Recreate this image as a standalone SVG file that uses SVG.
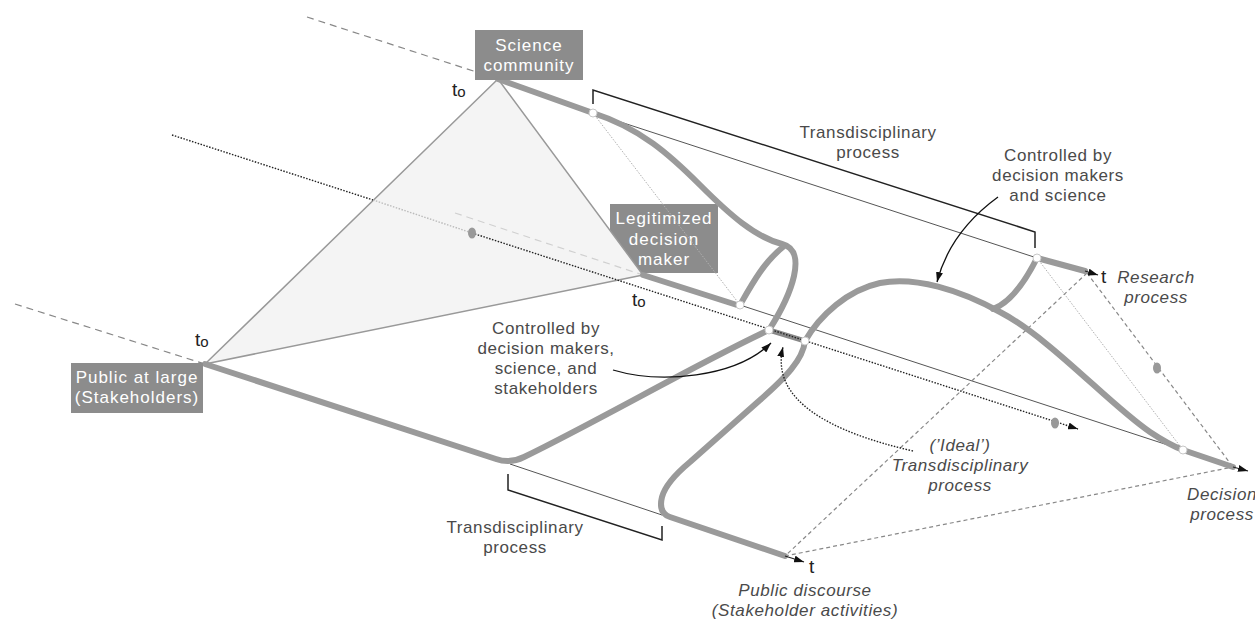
<svg xmlns="http://www.w3.org/2000/svg" width="1255" height="621" viewBox="0 0 1255 621">
<defs>
<style>
.thick{fill:none;stroke:#9a9a9a;stroke-width:6;stroke-linecap:round;stroke-linejoin:round}
.thin{fill:none;stroke:#555;stroke-width:1}
.xsec{fill:none;stroke:#b0b0b0;stroke-width:1;stroke-dasharray:1.5,1.5}
.back{fill:none;stroke:#888;stroke-width:1.2;stroke-dasharray:7,5}
.backlight{fill:none;stroke:#d0d0d0;stroke-width:1.2;stroke-dasharray:7,5}
.enddash{fill:none;stroke:#888;stroke-width:1.2;stroke-dasharray:4,3}
.ideal{fill:none;stroke:#222;stroke-width:1.4;stroke-dasharray:1.5,1.5}
.ideallight{fill:none;stroke:#bbb;stroke-width:1.4;stroke-dasharray:1.5,1.5}
.brk{fill:none;stroke:#222;stroke-width:1.5}
.arr{fill:none;stroke:#111;stroke-width:1.3}
.ax{fill:none;stroke:#222;stroke-width:1.2}
.jn{fill:#fff;stroke:#c8c8c8;stroke-width:1}
.dot{fill:#999}
.box{fill:#8c8c8c}
.bt{font-family:"Liberation Sans",Arial,sans-serif;font-size:17px;letter-spacing:1px;fill:#fff;text-anchor:middle}
.lb{font-family:"Liberation Sans",Arial,sans-serif;font-size:17px;letter-spacing:0.6px;fill:#4a4a4a;text-anchor:middle}
.it{font-family:"Liberation Sans",Arial,sans-serif;font-size:17px;letter-spacing:0.6px;font-style:italic;fill:#4a4a4a;text-anchor:middle}
.tt{font-family:"Liberation Sans",Arial,sans-serif;font-size:19px;fill:#222}
</style>
<marker id="ah" viewBox="0 0 10 7" refX="10" refY="3.5" markerWidth="10" markerHeight="7" markerUnits="userSpaceOnUse" orient="auto">
<path d="M0,0 L10,3.5 L0,7 z" fill="#111"/>
</marker>
</defs>
<rect width="1255" height="621" fill="#fff"/>

<g id="node-legitimized-decision-maker">
<rect class="box" x="610" y="204" width="108" height="69"/>
<text class="bt" x="664" y="224">Legitimized<tspan x="664" dy="20.5">decision</tspan><tspan x="664" dy="20.5">maker</tspan></text>
</g>

<g id="start-triangle">
<polygon points="498,79 643,275 205,364" fill="#f4f4f4" stroke="#999" stroke-width="1.5" stroke-linejoin="round"/>
</g>

<g id="connectors">
<path class="back" d="M307,17 L498,79"/>
<path class="back" d="M15,304 L205,364"/>
<path class="backlight" d="M455,213 L643,275"/>
<path class="ideal" d="M172,135 L373,200"/>
<path class="ideallight" d="M373,200 L472,233"/>
<path class="thin" d="M593,113 L1037,258"/>
<path class="thin" d="M740,305 L1183,450"/>
<path class="thin" d="M510,464 L662,515"/>
<path class="xsec" d="M593,113 L740,305"/>
<path class="xsec" d="M1037,258 L1183,450"/>
<path class="enddash" d="M1087,273 L1233,467"/>
<path class="enddash" d="M1087,273 L785,556"/>
<path class="enddash" d="M785,556 L1233,467"/>
<path class="thick" d="M498,79 L593,113"/>
<path class="thick" d="M593,113 C640,128 670,155 700,185 C730,215 755,237 782,244 C797,248 797,262 794,276 C789,298 778,316 769,330"/>
<path class="thick" d="M643,275 L737,305"/>
<path class="thick" d="M740,305 C752,284 764,262 783,247"/>
<path class="thick" d="M205,364 L496,459 Q510,464 524,457 C600,420 700,362 769,330"/>
<path class="thick" d="M785,556 L670,517 Q658,513 662,497 Q666,482 690,462 L760,400 C785,378 803,360 805,341"/>
<path class="thick" d="M805,341 C820,315 848,290 880,283 C915,276 960,290 1000,312 C1050,338 1110,405 1150,432 C1165,442 1175,447 1183,450"/>
<path class="thick" d="M993,309 C1012,302 1026,280 1037,258"/>
<path class="thick" d="M1037,258 L1085,271"/>
<path class="thick" d="M1183,450 L1233,467"/>
<path d="M769,330 L805,341" fill="none" stroke="#888" stroke-width="5"/>
<path class="ideal" d="M472,233 L1078,429" marker-end="url(#ah)"/>
<path class="ax" d="M1085,271 L1098,275" marker-end="url(#ah)"/>
<path class="ax" d="M785,556 L804,562" marker-end="url(#ah)"/>
<path class="ax" d="M1233,467 L1248,471" marker-end="url(#ah)"/>
<circle class="jn" cx="593" cy="113" r="4"/>
<circle class="jn" cx="740" cy="305" r="4"/>
<circle class="jn" cx="769" cy="330" r="4"/>
<circle class="jn" cx="805" cy="341" r="4"/>
<circle class="jn" cx="1037" cy="258" r="4"/>
<circle class="jn" cx="1183" cy="450" r="4"/>
<ellipse class="dot" cx="472" cy="233" rx="4" ry="5.5"/>
<ellipse class="dot" cx="1055" cy="423" rx="4" ry="5.5"/>
<ellipse class="dot" cx="1157" cy="368" rx="4" ry="5.5"/>
<path class="brk" d="M593,104 L593,90 L1035,232 L1035,248"/>
<path class="brk" d="M508,474 L508,490 L662,540 L662,526"/>
<path class="arr" d="M998,197 Q950,232 937,282" marker-end="url(#ah)"/>
<path class="arr" d="M613,370 C660,384 735,378 771,343" marker-end="url(#ah)"/>
<path class="ideal" d="M913,451 C830,432 770,400 783,347" marker-end="url(#ah)"/>
</g>

<g id="node-science-community">
<rect class="box" x="475" y="30" width="108" height="50"/>
<text class="bt" x="529" y="51">Science<tspan x="529" dy="20">community</tspan></text>
</g>

<g id="node-public-at-large">
<rect class="box" x="71" y="363" width="132" height="50"/>
<text class="bt" x="137" y="383">Public at large<tspan x="137" dy="20">(Stakeholders)</tspan></text>
</g>

<g id="labels">
<text class="tt" x="452" y="96">t<tspan font-size="15" dy="1">o</tspan></text>
<text class="tt" x="632" y="306">t<tspan font-size="15" dy="1">o</tspan></text>
<text class="tt" x="195" y="346">t<tspan font-size="15" dy="1">o</tspan></text>
<text class="tt" x="1101" y="283">t</text>
<text class="tt" x="809" y="573">t</text>
<text class="lb" x="868" y="138">Transdisciplinary<tspan x="868" dy="20">process</tspan></text>
<text class="lb" x="1058" y="161">Controlled by<tspan x="1058" dy="20">decision makers</tspan><tspan x="1058" dy="20">and science</tspan></text>
<text class="lb" x="546" y="334">Controlled by<tspan x="546" dy="20">decision makers,</tspan><tspan x="546" dy="20">science, and</tspan><tspan x="546" dy="20">stakeholders</tspan></text>
<text class="it" x="960" y="451">(’Ideal’)<tspan x="960" dy="20">Transdisciplinary</tspan><tspan x="960" dy="20">process</tspan></text>
<text class="lb" x="515" y="533">Transdisciplinary<tspan x="515" dy="20">process</tspan></text>
<text class="it" x="1156" y="283">Research<tspan x="1156" dy="20">process</tspan></text>
<text class="it" x="1222" y="500">Decision<tspan x="1222" dy="20">process</tspan></text>
<text class="it" x="805" y="596">Public discourse<tspan x="805" dy="20">(Stakeholder activities)</tspan></text>
</g>
</svg>
